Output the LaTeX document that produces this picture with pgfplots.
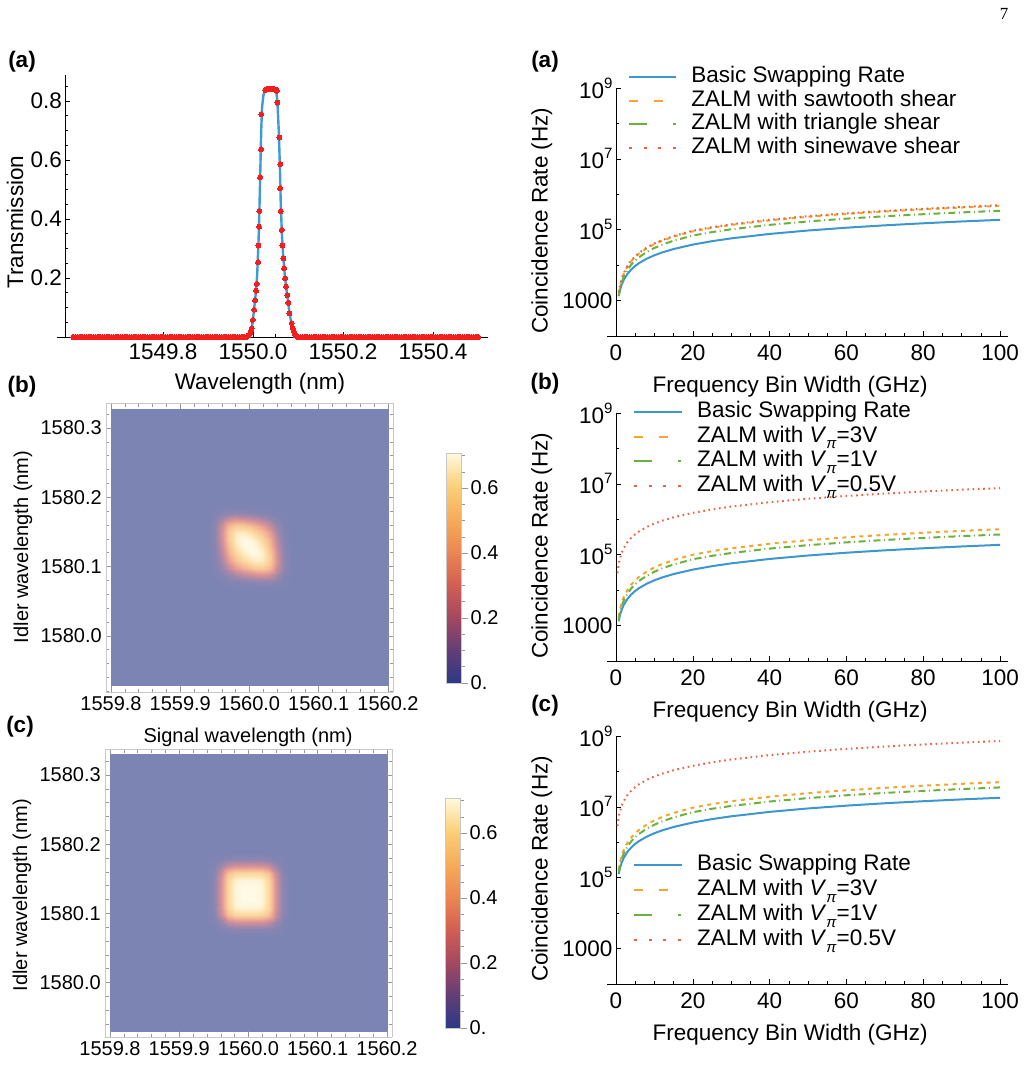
\documentclass[border=0pt]{standalone}
\usepackage{pgfplots}
\pgfplotsset{compat=1.18}
\usepackage{pgfplotstable}
\usepackage{fontspec}
\setmainfont{Liberation Sans}
\newfontfamily\pagenumfont{Liberation Serif}

\definecolor{fitblue}{RGB}{62,155,211}
\definecolor{datared}{RGB}{245,30,30}
\definecolor{cblue}{RGB}{60,150,208}
\definecolor{corange}{RGB}{246,164,46}
\definecolor{cgreen}{RGB}{106,178,62}
\definecolor{cred}{RGB}{238,96,64}
\definecolor{framegray}{RGB}{200,200,200}
\definecolor{tickgray}{RGB}{150,150,150}

\newcommand\fbig{\fontsize{22.5}{26}\selectfont}
\newcommand\fmid{\fontsize{20}{24}\selectfont}
\newcommand\vpi{\textit{V}\raisebox{-0.3em}{\fontsize{15}{15}\selectfont\textit{π}}}
\newcommand\sqp[1]{10\raisebox{0.45em}{\fontsize{15}{15}\selectfont #1}}

\pgfplotsset{
  colormap={sunset}{rgb255=(44,56,134) rgb255=(98,62,118) rgb255=(165,72,96)
    rgb255=(210,95,82) rgb255=(236,135,82) rgb255=(246,172,90)
    rgb255=(251,208,120) rgb255=(255,250,222)},
  heat axis/.style={
    scale only axis, width=287pt,
    view={0}{90},
    xmin=-0.2072, xmax=0.2072,
    axis line style={framegray, line width=0.8pt},
    xtick={-0.2,-0.1,0,0.1,0.2},
    xticklabels={1559.8,1559.9,1560.0,1560.1,1560.2},
    minor xtick={-0.18,-0.16,-0.14,-0.12,-0.08,-0.06,-0.04,-0.02,0.02,0.04,0.06,0.08,0.12,0.14,0.16,0.18},
    ytick={0,0.1,0.2,0.3}, yticklabels={1580.0,1580.1,1580.2,1580.3},
    minor ytick={-0.08,-0.06,-0.04,-0.02,0.02,0.04,0.06,0.08,0.12,0.14,0.16,0.18,0.22,0.24,0.26,0.28,0.32},
    tick align=inside, major tick length=6pt, minor tick length=3.5pt,
    tick style={tickgray, line width=0.6pt},
    tick label style={font=\fmid},
    xticklabel style={inner ysep=3pt, yshift=-1pt},
    yticklabel style={inner xsep=4pt},
    label style={font=\fmid},
    ylabel={Idler wavelength (nm)},
    point meta min=0, point meta max=0.708,
    colormap name=sunset,
    colorbar,
    colorbar style={
      at={(parent axis.south east)}, anchor=south west,
      xshift=45pt, yshift=9pt,
      scale only axis, width=15pt, height=230pt,
      ytick={0,0.2,0.4,0.6}, yticklabels={0.,0.2,0.4,0.6},
      minor ytick={0.05,0.1,0.15,0.25,0.3,0.35,0.45,0.5,0.55,0.65,0.7},
      ytick pos=right, yticklabel pos=right,
      tick align=outside, major tick length=6pt, minor tick length=3.5pt,
      tick style={tickgray, line width=0.6pt},
      axis line style={framegray, line width=0.8pt},
      yticklabel style={font=\fmid, inner xsep=3pt},
    },
  },
  rate look/.style={
    scale only axis, width=392pt, height=248pt,
    xmin=0, xmax=102.08, ymin=100, ymax=1e9,
    axis x line=bottom, axis y line=left,
    axis line style={-, line width=0.8pt},
    x axis line style={shorten <=-9pt},
    xtick={0,20,40,60,80,100}, xticklabels={0,20,40,60,80,100},
    minor xtick={5,10,15,25,30,35,45,50,55,65,70,75,85,90,95},
    tick align=inside, major tick length=5pt, minor tick length=3pt,
    tick style={black, line width=0.6pt},
    tick label style={font=\fbig},
    xticklabel style={yshift=-5pt},
    label style={font=\fbig},
    xlabel={Frequency Bin Width (GHz)},
    ylabel={Coincidence Rate (Hz)},
    xlabel style={at={(axis description cs:0.444,-0.205)}, anchor=center},
    ylabel style={at={(axis description cs:-0.189,0.465)}, anchor=center},
    legend cell align=left,
    legend style={draw=none, fill=none, font=\fbig, inner sep=0pt,
      anchor=north west, nodes={inner sep=1pt, text height=16pt, text depth=5pt}},
  },
}

% coincidence rates vs frequency bin width (GHz)
\pgfplotstableread{
x    basic   sawA    triA    sinA    vthreeB voneB   basicC   vthreeC  voneC
0.7  1330    1616    1358    1681    1795    1476    1.264e5  1.705e5  1.402e5
1    1900    2479    2060    2578    2754    2239    1.805e5  2.616e5  2.127e5
1.5  2850    4029    3309    4190    4477    3597    2.708e5  4.253e5  3.417e5
2    3800    5692    4632    5920    6324    5035    3.610e5  6.008e5  4.783e5
3    5700    9252    7444    9622    10280   8091    5.415e5  9.766e5  7.686e5
4    7600    13070   10410   13590   14520   11320   7.220e5  1.379e6  1.075e6
5    9500    17110   13540   17790   19010   14720   9.025e5  1.806e6  1.398e6
6    11400   21290   16740   22140   23660   18200   1.083e6  2.248e6  1.729e6
8    15200   30080   23490   31280   33420   25530   1.444e6  3.175e6  2.425e6
10   19000   39290   30460   40860   43650   33110   1.805e6  4.147e6  3.145e6
12   22800   48900   37660   50860   54330   40930   2.166e6  5.161e6  3.888e6
15   28500   63860   48950   66410   70960   53210   2.708e6  6.741e6  5.055e6
20   38000   90000   68510   93600   100000  74470   3.610e6  9.500e6  7.075e6
25   47500   113300  85660   117800  125900  93110   4.513e6  1.196e7  8.845e6
30   57000   136500  102800  142000  151700  111700  5.415e6  1.441e7  1.061e7
40   76000   183800  137000  191200  204200  148900  7.220e6  1.940e7  1.415e7
50   95000   231300  171300  240600  257000  186200  9.025e6  2.442e7  1.769e7
60   114000  278700  205500  289800  309700  223400  1.083e7  2.942e7  2.122e7
70   133000  326800  239800  339900  363100  260600  1.264e7  3.449e7  2.476e7
80   152000  375200  274100  390200  416900  297900  1.444e7  3.961e7  2.830e7
90   171000  422900  308200  439800  469900  335000  1.625e7  4.464e7  3.183e7
100  190000  472300  342600  491200  524800  372400  1.805e7  4.986e7  3.538e7
}\rates

\pgfplotstableread{
x    vhalfB   vhalfC
0.4  3.04e4   2.888e6
0.6  4.56e4   4.332e6
0.8  6.08e4   5.776e6
1    7.6e4    7.22e6
1.5  1.14e5   1.083e7
2    1.52e5   1.444e7
3    2.28e5   2.166e7
4    3.04e5   2.888e7
5    3.8e5    3.61e7
6    4.56e5   4.332e7
8    6.08e5   5.776e7
10   7.6e5    7.22e7
12   9.12e5   8.664e7
15   1.14e6   1.083e8
20   1.52e6   1.444e8
25   1.9e6    1.805e8
30   2.28e6   2.166e8
40   3.04e6   2.888e8
50   3.8e6    3.61e8
60   4.56e6   4.332e8
70   5.32e6   5.054e8
80   6.08e6   5.776e8
90   6.84e6   6.498e8
100  7.6e6    7.22e8
}\ratesfast

% joint spectral intensity, wavelengths as offsets (nm) from 1560 (signal) and 1580 (idler)
\pgfplotstableread[row sep=\\]{
x y z\\
-0.20 -0.071 0\\ -0.06 -0.071 0\\ -0.05 -0.071 0\\ -0.04 -0.071 0\\ -0.03 -0.071 0\\ -0.02 -0.071 0\\ -0.01 -0.071 0\\ 0 -0.071 0\\ 0.01 -0.071 0\\ 0.02 -0.071 0\\ 0.03 -0.071 0\\ 0.04 -0.071 0\\ 0.05 -0.071 0\\ 0.06 -0.071 0\\ 0.20 -0.071 0\\
-0.20 0.068 0\\ -0.06 0.068 0\\ -0.05 0.068 0\\ -0.04 0.068 0\\ -0.03 0.068 0\\ -0.02 0.068 0\\ -0.01 0.068 0\\ 0 0.068 0\\ 0.01 0.068 0\\ 0.02 0.068 0\\ 0.03 0.068 0\\ 0.04 0.068 0\\ 0.05 0.068 0\\ 0.06 0.068 0\\ 0.20 0.068 0\\
-0.20 0.078 0\\ -0.06 0.078 0\\ -0.05 0.078 0.001\\ -0.04 0.078 0.005\\ -0.03 0.078 0.015\\ -0.02 0.078 0.025\\ -0.01 0.078 0.034\\ 0 0.078 0.042\\ 0.01 0.078 0.050\\ 0.02 0.078 0.055\\ 0.03 0.078 0.050\\ 0.04 0.078 0.027\\ 0.05 0.078 0.007\\ 0.06 0.078 0\\ 0.20 0.078 0\\
-0.20 0.088 0\\ -0.06 0.088 0\\ -0.05 0.088 0.005\\ -0.04 0.088 0.030\\ -0.03 0.088 0.081\\ -0.02 0.088 0.128\\ -0.01 0.088 0.168\\ 0 0.088 0.202\\ 0.01 0.088 0.232\\ 0.02 0.088 0.245\\ 0.03 0.088 0.214\\ 0.04 0.088 0.112\\ 0.05 0.088 0.027\\ 0.06 0.088 0\\ 0.20 0.088 0\\
-0.20 0.098 0\\ -0.06 0.098 0\\ -0.05 0.098 0.015\\ -0.04 0.098 0.081\\ -0.03 0.098 0.204\\ -0.02 0.098 0.311\\ -0.01 0.098 0.393\\ 0 0.098 0.453\\ 0.01 0.098 0.502\\ 0.02 0.098 0.508\\ 0.03 0.098 0.426\\ 0.04 0.098 0.214\\ 0.05 0.098 0.050\\ 0.06 0.098 0\\ 0.20 0.098 0\\
-0.20 0.108 0\\ -0.06 0.108 0\\ -0.05 0.108 0.025\\ -0.04 0.108 0.128\\ -0.03 0.108 0.311\\ -0.02 0.108 0.455\\ -0.01 0.108 0.552\\ 0 0.108 0.612\\ 0.01 0.108 0.652\\ 0.02 0.108 0.632\\ 0.03 0.108 0.508\\ 0.04 0.108 0.245\\ 0.05 0.108 0.055\\ 0.06 0.108 0\\ 0.20 0.108 0\\
-0.20 0.118 0\\ -0.06 0.118 0\\ -0.05 0.118 0.034\\ -0.04 0.118 0.168\\ -0.03 0.118 0.393\\ -0.02 0.118 0.552\\ -0.01 0.118 0.644\\ 0 0.118 0.686\\ 0.01 0.118 0.700\\ 0.02 0.118 0.652\\ 0.03 0.118 0.502\\ 0.04 0.118 0.232\\ 0.05 0.118 0.050\\ 0.06 0.118 0\\ 0.20 0.118 0\\
-0.20 0.128 0\\ -0.06 0.128 0\\ -0.05 0.128 0.042\\ -0.04 0.128 0.202\\ -0.03 0.128 0.453\\ -0.02 0.128 0.612\\ -0.01 0.128 0.686\\ 0 0.128 0.700\\ 0.01 0.128 0.686\\ 0.02 0.128 0.612\\ 0.03 0.128 0.453\\ 0.04 0.128 0.202\\ 0.05 0.128 0.042\\ 0.06 0.128 0\\ 0.20 0.128 0\\
-0.20 0.138 0\\ -0.06 0.138 0\\ -0.05 0.138 0.050\\ -0.04 0.138 0.232\\ -0.03 0.138 0.502\\ -0.02 0.138 0.652\\ -0.01 0.138 0.700\\ 0 0.138 0.686\\ 0.01 0.138 0.644\\ 0.02 0.138 0.552\\ 0.03 0.138 0.393\\ 0.04 0.138 0.168\\ 0.05 0.138 0.034\\ 0.06 0.138 0\\ 0.20 0.138 0\\
-0.20 0.148 0\\ -0.06 0.148 0\\ -0.05 0.148 0.055\\ -0.04 0.148 0.245\\ -0.03 0.148 0.508\\ -0.02 0.148 0.632\\ -0.01 0.148 0.652\\ 0 0.148 0.612\\ 0.01 0.148 0.552\\ 0.02 0.148 0.455\\ 0.03 0.148 0.311\\ 0.04 0.148 0.128\\ 0.05 0.148 0.025\\ 0.06 0.148 0\\ 0.20 0.148 0\\
-0.20 0.158 0\\ -0.06 0.158 0\\ -0.05 0.158 0.050\\ -0.04 0.158 0.214\\ -0.03 0.158 0.426\\ -0.02 0.158 0.508\\ -0.01 0.158 0.502\\ 0 0.158 0.453\\ 0.01 0.158 0.393\\ 0.02 0.158 0.311\\ 0.03 0.158 0.204\\ 0.04 0.158 0.081\\ 0.05 0.158 0.015\\ 0.06 0.158 0\\ 0.20 0.158 0\\
-0.20 0.168 0\\ -0.06 0.168 0\\ -0.05 0.168 0.027\\ -0.04 0.168 0.112\\ -0.03 0.168 0.214\\ -0.02 0.168 0.245\\ -0.01 0.168 0.232\\ 0 0.168 0.202\\ 0.01 0.168 0.168\\ 0.02 0.168 0.128\\ 0.03 0.168 0.081\\ 0.04 0.168 0.030\\ 0.05 0.168 0.005\\ 0.06 0.168 0\\ 0.20 0.168 0\\
-0.20 0.178 0\\ -0.06 0.178 0\\ -0.05 0.178 0.007\\ -0.04 0.178 0.027\\ -0.03 0.178 0.050\\ -0.02 0.178 0.055\\ -0.01 0.178 0.050\\ 0 0.178 0.042\\ 0.01 0.178 0.034\\ 0.02 0.178 0.025\\ 0.03 0.178 0.015\\ 0.04 0.178 0.005\\ 0.05 0.178 0.001\\ 0.06 0.178 0\\ 0.20 0.178 0\\
-0.20 0.188 0\\ -0.06 0.188 0\\ -0.05 0.188 0\\ -0.04 0.188 0\\ -0.03 0.188 0\\ -0.02 0.188 0\\ -0.01 0.188 0\\ 0 0.188 0\\ 0.01 0.188 0\\ 0.02 0.188 0\\ 0.03 0.188 0\\ 0.04 0.188 0\\ 0.05 0.188 0\\ 0.06 0.188 0\\ 0.20 0.188 0\\
-0.20 0.327 0\\ -0.06 0.327 0\\ -0.05 0.327 0\\ -0.04 0.327 0\\ -0.03 0.327 0\\ -0.02 0.327 0\\ -0.01 0.327 0\\ 0 0.327 0\\ 0.01 0.327 0\\ 0.02 0.327 0\\ 0.03 0.327 0\\ 0.04 0.327 0\\ 0.05 0.327 0\\ 0.06 0.327 0\\ 0.20 0.327 0\\
}\jsiB

\pgfplotstableread[row sep=\\]{
x y z\\
-0.20 -0.070 0\\ -0.06 -0.070 0\\ -0.05 -0.070 0\\ -0.04 -0.070 0\\ -0.03 -0.070 0\\ -0.02 -0.070 0\\ -0.01 -0.070 0\\ 0 -0.070 0\\ 0.01 -0.070 0\\ 0.02 -0.070 0\\ 0.03 -0.070 0\\ 0.04 -0.070 0\\ 0.05 -0.070 0\\ 0.06 -0.070 0\\ 0.20 -0.070 0\\
-0.20 0.068 0\\ -0.06 0.068 0\\ -0.05 0.068 0\\ -0.04 0.068 0\\ -0.03 0.068 0\\ -0.02 0.068 0\\ -0.01 0.068 0\\ 0 0.068 0\\ 0.01 0.068 0\\ 0.02 0.068 0\\ 0.03 0.068 0\\ 0.04 0.068 0\\ 0.05 0.068 0\\ 0.06 0.068 0\\ 0.20 0.068 0\\
-0.20 0.078 0\\ -0.06 0.078 0\\ -0.05 0.078 0.003\\ -0.04 0.078 0.017\\ -0.03 0.078 0.039\\ -0.02 0.078 0.048\\ -0.01 0.078 0.049\\ 0 0.078 0.049\\ 0.01 0.078 0.049\\ 0.02 0.078 0.048\\ 0.03 0.078 0.039\\ 0.04 0.078 0.017\\ 0.05 0.078 0.003\\ 0.06 0.078 0\\ 0.20 0.078 0\\
-0.20 0.088 0\\ -0.06 0.088 0\\ -0.05 0.088 0.017\\ -0.04 0.088 0.086\\ -0.03 0.088 0.196\\ -0.02 0.088 0.238\\ -0.01 0.088 0.245\\ 0 0.088 0.245\\ 0.01 0.088 0.245\\ 0.02 0.088 0.238\\ 0.03 0.088 0.196\\ 0.04 0.088 0.086\\ 0.05 0.088 0.017\\ 0.06 0.088 0\\ 0.20 0.088 0\\
-0.20 0.098 0\\ -0.06 0.098 0\\ -0.05 0.098 0.039\\ -0.04 0.098 0.196\\ -0.03 0.098 0.448\\ -0.02 0.098 0.543\\ -0.01 0.098 0.560\\ 0 0.098 0.560\\ 0.01 0.098 0.560\\ 0.02 0.098 0.543\\ 0.03 0.098 0.448\\ 0.04 0.098 0.196\\ 0.05 0.098 0.039\\ 0.06 0.098 0\\ 0.20 0.098 0\\
-0.20 0.108 0\\ -0.06 0.108 0\\ -0.05 0.108 0.048\\ -0.04 0.108 0.238\\ -0.03 0.108 0.543\\ -0.02 0.108 0.659\\ -0.01 0.108 0.679\\ 0 0.108 0.679\\ 0.01 0.108 0.679\\ 0.02 0.108 0.659\\ 0.03 0.108 0.543\\ 0.04 0.108 0.238\\ 0.05 0.108 0.048\\ 0.06 0.108 0\\ 0.20 0.108 0\\
-0.20 0.118 0\\ -0.06 0.118 0\\ -0.05 0.118 0.049\\ -0.04 0.118 0.245\\ -0.03 0.118 0.560\\ -0.02 0.118 0.679\\ -0.01 0.118 0.700\\ 0 0.118 0.700\\ 0.01 0.118 0.700\\ 0.02 0.118 0.679\\ 0.03 0.118 0.560\\ 0.04 0.118 0.245\\ 0.05 0.118 0.049\\ 0.06 0.118 0\\ 0.20 0.118 0\\
-0.20 0.128 0\\ -0.06 0.128 0\\ -0.05 0.128 0.049\\ -0.04 0.128 0.245\\ -0.03 0.128 0.560\\ -0.02 0.128 0.679\\ -0.01 0.128 0.700\\ 0 0.128 0.700\\ 0.01 0.128 0.700\\ 0.02 0.128 0.679\\ 0.03 0.128 0.560\\ 0.04 0.128 0.245\\ 0.05 0.128 0.049\\ 0.06 0.128 0\\ 0.20 0.128 0\\
-0.20 0.138 0\\ -0.06 0.138 0\\ -0.05 0.138 0.049\\ -0.04 0.138 0.245\\ -0.03 0.138 0.560\\ -0.02 0.138 0.679\\ -0.01 0.138 0.700\\ 0 0.138 0.700\\ 0.01 0.138 0.700\\ 0.02 0.138 0.679\\ 0.03 0.138 0.560\\ 0.04 0.138 0.245\\ 0.05 0.138 0.049\\ 0.06 0.138 0\\ 0.20 0.138 0\\
-0.20 0.148 0\\ -0.06 0.148 0\\ -0.05 0.148 0.048\\ -0.04 0.148 0.238\\ -0.03 0.148 0.543\\ -0.02 0.148 0.659\\ -0.01 0.148 0.679\\ 0 0.148 0.679\\ 0.01 0.148 0.679\\ 0.02 0.148 0.659\\ 0.03 0.148 0.543\\ 0.04 0.148 0.238\\ 0.05 0.148 0.048\\ 0.06 0.148 0\\ 0.20 0.148 0\\
-0.20 0.158 0\\ -0.06 0.158 0\\ -0.05 0.158 0.039\\ -0.04 0.158 0.196\\ -0.03 0.158 0.448\\ -0.02 0.158 0.543\\ -0.01 0.158 0.560\\ 0 0.158 0.560\\ 0.01 0.158 0.560\\ 0.02 0.158 0.543\\ 0.03 0.158 0.448\\ 0.04 0.158 0.196\\ 0.05 0.158 0.039\\ 0.06 0.158 0\\ 0.20 0.158 0\\
-0.20 0.168 0\\ -0.06 0.168 0\\ -0.05 0.168 0.017\\ -0.04 0.168 0.086\\ -0.03 0.168 0.196\\ -0.02 0.168 0.238\\ -0.01 0.168 0.245\\ 0 0.168 0.245\\ 0.01 0.168 0.245\\ 0.02 0.168 0.238\\ 0.03 0.168 0.196\\ 0.04 0.168 0.086\\ 0.05 0.168 0.017\\ 0.06 0.168 0\\ 0.20 0.168 0\\
-0.20 0.178 0\\ -0.06 0.178 0\\ -0.05 0.178 0.003\\ -0.04 0.178 0.017\\ -0.03 0.178 0.039\\ -0.02 0.178 0.048\\ -0.01 0.178 0.049\\ 0 0.178 0.049\\ 0.01 0.178 0.049\\ 0.02 0.178 0.048\\ 0.03 0.178 0.039\\ 0.04 0.178 0.017\\ 0.05 0.178 0.003\\ 0.06 0.178 0\\ 0.20 0.178 0\\
-0.20 0.188 0\\ -0.06 0.188 0\\ -0.05 0.188 0\\ -0.04 0.188 0\\ -0.03 0.188 0\\ -0.02 0.188 0\\ -0.01 0.188 0\\ 0 0.188 0\\ 0.01 0.188 0\\ 0.02 0.188 0\\ 0.03 0.188 0\\ 0.04 0.188 0\\ 0.05 0.188 0\\ 0.06 0.188 0\\ 0.20 0.188 0\\
-0.20 0.330 0\\ -0.06 0.330 0\\ -0.05 0.330 0\\ -0.04 0.330 0\\ -0.03 0.330 0\\ -0.02 0.330 0\\ -0.01 0.330 0\\ 0 0.330 0\\ 0.01 0.330 0\\ 0.02 0.330 0\\ 0.03 0.330 0\\ 0.04 0.330 0\\ 0.05 0.330 0\\ 0.06 0.330 0\\ 0.20 0.330 0\\
}\jsiC

\begin{document}
\begin{tikzpicture}
\path[use as bounding box] (0,0) rectangle (1028pt,-1066pt);

\node[font=\pagenumfont\fontsize{17}{17}\selectfont] at (1004pt,-14pt) {7};
\node[font=\bfseries\fbig] at (22pt,-62pt) {(a)};
\node[font=\bfseries\fbig] at (545pt,-62pt) {(a)};
\node[font=\bfseries\fbig] at (22pt,-387pt) {(b)};
\node[font=\bfseries\fbig] at (545pt,-384pt) {(b)};
\node[font=\bfseries\fbig] at (20pt,-727pt) {(c)};
\node[font=\bfseries\fbig] at (545pt,-706pt) {(c)};

% filter transmission; wavelength as offset (nm) from 1550 nm
\begin{axis}[
  at={(65pt,-337pt)}, anchor=south west, scale only axis,
  width=423pt, height=262pt,
  xmin=-0.418, xmax=0.522, ymin=0, ymax=0.888,
  axis x line=bottom, axis y line=left,
  axis line style={-, line width=0.8pt},
  x axis line style={shorten <=-8pt},
  xtick={-0.2,0,0.2,0.4}, xticklabels={1549.8,1550.0,1550.2,1550.4},
  minor xtick={-0.4,-0.35,-0.3,-0.25,-0.15,-0.1,-0.05,0.05,0.1,0.15,0.25,0.3,0.35,0.45,0.5},
  ytick={0.2,0.4,0.6,0.8}, yticklabels={0.2,0.4,0.6,0.8},
  minor ytick={0.05,0.1,0.15,0.25,0.3,0.35,0.45,0.5,0.55,0.65,0.7,0.75,0.85},
  tick align=inside, major tick length=5pt, minor tick length=3pt,
  tick style={black, line width=0.6pt},
  tick label style={font=\fbig},
  xticklabel style={yshift=-3pt},
  yticklabel style={inner xsep=3pt},
  label style={font=\fbig},
  xlabel={Wavelength (nm)}, ylabel={Transmission},
  xlabel style={at={(axis description cs:0.461,-0.18)}, anchor=center},
  ylabel style={at={(axis description cs:-0.118,0.439)}, anchor=center},
  clip=false,
]
\addplot[datared, only marks, mark=*, mark size=2.5pt, mark options={solid, fill=datared, draw=datared, line width=0pt}] coordinates {
(-0.400,0)(-0.395,0)(-0.390,0)(-0.385,0)(-0.380,0)(-0.375,0)(-0.370,0)(-0.365,0)(-0.360,0)(-0.355,0)
(-0.350,0)(-0.345,0)(-0.340,0)(-0.335,0)(-0.330,0)(-0.325,0)(-0.320,0)(-0.315,0)(-0.310,0)(-0.305,0)
(-0.300,0)(-0.295,0)(-0.290,0)(-0.285,0)(-0.280,0)(-0.275,0)(-0.270,0)(-0.265,0)(-0.260,0)(-0.255,0)
(-0.250,0)(-0.245,0)(-0.240,0)(-0.235,0)(-0.230,0)(-0.225,0)(-0.220,0)(-0.215,0)(-0.210,0)(-0.205,0)
(-0.200,0)(-0.195,0)(-0.190,0)(-0.185,0)(-0.180,0)(-0.175,0)(-0.170,0)(-0.165,0)(-0.160,0)(-0.155,0)
(-0.150,0)(-0.145,0)(-0.140,0)(-0.135,0)(-0.130,0)(-0.125,0)(-0.120,0)(-0.115,0)(-0.110,0)(-0.105,0)
(-0.100,0)(-0.095,0)(-0.090,0)(-0.085,0)(-0.080,0)(-0.075,0)(-0.070,0)(-0.065,0)(-0.060,0)(-0.055,0)
(-0.050,0)(-0.045,0)(-0.040,0)(-0.035,0)(-0.030,0)(-0.025,0)(-0.020,0)(-0.015,0)
(-0.010,0.005)(-0.007,0.012)(-0.005,0.020)(-0.0029,0.030)(-0.0007,0.058)(0.0022,0.092)
(0.0044,0.125)(0.0067,0.157)(0.0082,0.180)(0.0111,0.254)(0.0118,0.310)(0.0133,0.374)
(0.0140,0.427)(0.0156,0.541)(0.0178,0.637)(0.0180,0.755)(0.0267,0.837)(0.0300,0.840)
(0.0333,0.842)(0.0367,0.842)(0.0400,0.842)(0.0433,0.841)(0.0467,0.840)(0.0500,0.838)
(0.0527,0.835)(0.0540,0.794)(0.0584,0.676)(0.0600,0.504)(0.0607,0.586)(0.0616,0.427)
(0.0638,0.363)(0.0651,0.310)(0.0673,0.267)(0.0689,0.233)(0.0711,0.199)(0.0733,0.171)
(0.0762,0.142)(0.0784,0.116)(0.0807,0.080)(0.0860,0.047)(0.0880,0.030)(0.0900,0.020)
(0.0920,0.012)(0.0950,0.005)
(0.100,0)(0.105,0)(0.110,0)(0.115,0)(0.120,0)(0.125,0)(0.130,0)(0.135,0)(0.140,0)(0.145,0)
(0.150,0)(0.155,0)(0.160,0)(0.165,0)(0.170,0)(0.175,0)(0.180,0)(0.185,0)(0.190,0)(0.195,0)
(0.200,0)(0.205,0)(0.210,0)(0.215,0)(0.220,0)(0.225,0)(0.230,0)(0.235,0)(0.240,0)(0.245,0)
(0.250,0)(0.255,0)(0.260,0)(0.265,0)(0.270,0)(0.275,0)(0.280,0)(0.285,0)(0.290,0)(0.295,0)
(0.300,0)(0.305,0)(0.310,0)(0.315,0)(0.320,0)(0.325,0)(0.330,0)(0.335,0)(0.340,0)(0.345,0)
(0.350,0)(0.355,0)(0.360,0)(0.365,0)(0.370,0)(0.375,0)(0.380,0)(0.385,0)(0.390,0)(0.395,0)
(0.400,0)(0.405,0)(0.410,0)(0.415,0)(0.420,0)(0.425,0)(0.430,0)(0.435,0)(0.440,0)(0.445,0)
(0.450,0)(0.455,0)(0.460,0)(0.465,0)(0.470,0)(0.475,0)(0.480,0)(0.485,0)(0.490,0)(0.495,0)
(0.500,0)
};
\addplot[fitblue, line width=2.4pt, line join=round] coordinates {
(-0.400,0)(-0.015,0.001)(-0.007,0.010)(-0.002,0.040)(0.002,0.090)(0.006,0.150)
(0.009,0.210)(0.012,0.320)(0.014,0.430)(0.016,0.560)(0.018,0.700)(0.020,0.780)
(0.023,0.820)(0.027,0.835)(0.035,0.840)(0.045,0.840)(0.051,0.835)(0.054,0.800)
(0.057,0.700)(0.0595,0.580)(0.0615,0.450)(0.064,0.350)(0.067,0.270)(0.071,0.200)
(0.076,0.140)(0.081,0.080)(0.086,0.040)(0.091,0.012)(0.097,0.002)(0.500,0)
};
\end{axis}

% joint spectral intensity, sheared pump
\begin{axis}[heat axis,
  at={(106pt,-692pt)}, anchor=south west, height=289pt,
  ymin=-0.081, ymax=0.336,
  xlabel={Signal wavelength (nm)},
  xlabel style={at={(axis description cs:0.495,-0.158)}, anchor=center},
  ylabel style={at={(axis description cs:-0.289,0.502)}, anchor=center},
]
\addplot3[surf, shader=interp, opacity=0.62, mesh/cols=15, mesh/rows=15] table[x=x, y=y, z=z] {\jsiB};
\end{axis}

% joint spectral intensity, filtered
\begin{axis}[heat axis,
  at={(105pt,-1037pt)}, anchor=south west, height=288pt,
  ymin=-0.0786, ymax=0.3376,
  ylabel style={at={(axis description cs:-0.289,0.493)}, anchor=center},
]
\addplot3[surf, shader=interp, opacity=0.62, mesh/cols=15, mesh/rows=15] table[x=x, y=y, z=z] {\jsiC};
\end{axis}

% rates, shear profiles
\begin{axis}[rate look, ymode=log,
  ytick={1e3,1e5,1e7,1e9}, yticklabels={1000,\sqp{5},\sqp{7},\sqp{9}},
  minor ytick={1e4,1e6,1e8},
  legend image code/.code={\draw[#1] (0pt,0pt) -- (47pt,0pt); \path (60pt,0pt);},
  at={(616pt,-336pt)}, anchor=south west,
  legend style={at={(axis description cs:0.031,1.092)}, row sep=0.8pt}]
\addlegendimage{cblue, line width=2pt}
\addlegendentry{Basic Swapping Rate}
\addlegendimage{corange, line width=2pt, dash pattern=on 9pt off 16pt}
\addlegendentry{ZALM with sawtooth shear}
\addlegendimage{cgreen, line width=2pt, dash pattern=on 18pt off 26pt on 3pt off 10pt}
\addlegendentry{ZALM with triangle shear}
\addlegendimage{cred, line width=2pt, dash pattern=on 3pt off 11.5pt}
\addlegendentry{ZALM with sinewave shear}
\addplot[forget plot, cblue, line width=2pt] table[x=x, y=basic] {\rates};
\addplot[forget plot, corange, line width=2pt, dash pattern=on 4pt off 4.5pt] table[x=x, y=sawA] {\rates};
\addplot[forget plot, cgreen, line width=2pt, dash pattern=on 7pt off 3.5pt on 1pt off 3.5pt] table[x=x, y=triA] {\rates};
\addplot[forget plot, cred, line width=2pt, dash pattern=on 1.6pt off 3.7pt] table[x=x, y=sinA] {\rates};
\end{axis}

% rates, modulator half-wave voltage
\begin{axis}[rate look, ymode=log,
  ytick={1e3,1e5,1e7,1e9}, yticklabels={1000,\sqp{5},\sqp{7},\sqp{9}},
  minor ytick={1e4,1e6,1e8},
  legend image code/.code={\draw[#1] (0pt,0pt) -- (48pt,0pt); \path (61pt,0pt);},
  at={(616pt,-661pt)}, anchor=south west,
  legend style={at={(axis description cs:0.043,1.052)}, row sep=1.8pt}]
\addlegendimage{cblue, line width=2pt}
\addlegendentry{Basic Swapping Rate}
\addlegendimage{corange, line width=2pt, dash pattern=on 9pt off 16pt}
\addlegendentry{ZALM with \vpi=3V}
\addlegendimage{cgreen, line width=2pt, dash pattern=on 18pt off 26pt on 3pt off 10pt}
\addlegendentry{ZALM with \vpi=1V}
\addlegendimage{cred, line width=2pt, dash pattern=on 3pt off 11.5pt}
\addlegendentry{ZALM with \vpi=0.5V}
\addplot[forget plot, cblue, line width=2pt] table[x=x, y=basic] {\rates};
\addplot[forget plot, corange, line width=2pt, dash pattern=on 4pt off 4.5pt] table[x=x, y=vthreeB] {\rates};
\addplot[forget plot, cgreen, line width=2pt, dash pattern=on 7pt off 3.5pt on 1pt off 3.5pt] table[x=x, y=voneB] {\rates};
\addplot[forget plot, cred, line width=2pt, dash pattern=on 1.6pt off 3.7pt] table[x=x, y=vhalfB] {\ratesfast};
\end{axis}

% rates, higher pump power
\begin{axis}[rate look, ymode=log,
  ytick={1e3,1e5,1e7,1e9}, yticklabels={1000,\sqp{5},\sqp{7},\sqp{9}},
  minor ytick={1e4,1e6,1e8},
  legend image code/.code={\draw[#1] (0pt,0pt) -- (48pt,0pt); \path (61pt,0pt);},
  at={(616pt,-984pt)}, anchor=south west,
  legend style={at={(axis description cs:0.043,0.528)}, row sep=2pt}]
\addlegendimage{cblue, line width=2pt}
\addlegendentry{Basic Swapping Rate}
\addlegendimage{corange, line width=2pt, dash pattern=on 9pt off 16pt}
\addlegendentry{ZALM with \vpi=3V}
\addlegendimage{cgreen, line width=2pt, dash pattern=on 18pt off 26pt on 3pt off 10pt}
\addlegendentry{ZALM with \vpi=1V}
\addlegendimage{cred, line width=2pt, dash pattern=on 3pt off 11.5pt}
\addlegendentry{ZALM with \vpi=0.5V}
\addplot[forget plot, cblue, line width=2pt] table[x=x, y=basicC] {\rates};
\addplot[forget plot, corange, line width=2pt, dash pattern=on 4pt off 4.5pt] table[x=x, y=vthreeC] {\rates};
\addplot[forget plot, cgreen, line width=2pt, dash pattern=on 7pt off 3.5pt on 1pt off 3.5pt] table[x=x, y=voneC] {\rates};
\addplot[forget plot, cred, line width=2pt, dash pattern=on 1.6pt off 3.7pt] table[x=x, y=vhalfC] {\ratesfast};
\end{axis}
\end{tikzpicture}
\end{document}
